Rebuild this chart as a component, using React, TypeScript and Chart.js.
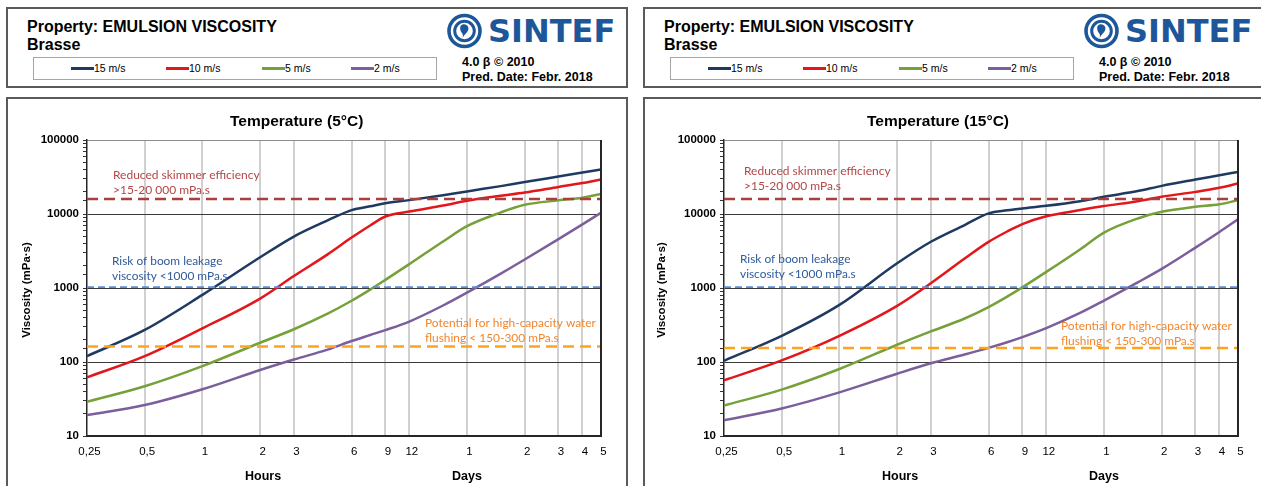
import React, { useEffect, useRef } from 'react';
import { Chart, registerables } from 'chart.js';

Chart.register(...registerables);

// ---------- data ----------
const hours = [0.25, 0.5, 1, 2, 3, 4.5, 6, 7.5, 9, 12, 18, 24, 36, 48, 72, 96, 120];

const xTickValues = [0.25, 0.5, 1, 2, 3, 6, 9, 12, 24, 48, 72, 96, 120];
const xTickLabels = ['0,25', '0,5', '1', '2', '3', '6', '9', '12', '1', '2', '3', '4', '5'];

const seriesNames = ['15 m/s', '10 m/s', '5 m/s', '2 m/s'];

// 5 °C
const wind15_5C = [120, 271, 807, 2600, 4960, 8200, 11300, 12700, 14000, 15400, 17900, 20200, 23800, 27000, 32100, 36300, 40000];
const wind10_5C = [62, 120, 285, 720, 1450, 2850, 4800, 7000, 9250, 10800, 13000, 15100, 17600, 19500, 23200, 26200, 29300];
const wind5_5C = [29, 47, 88, 182, 277, 450, 672, 951, 1288, 2100, 4250, 6850, 10500, 13300, 15300, 16600, 18700];
const wind2_5C = [19.2, 26.2, 42.8, 78, 108, 147, 192, 232, 270, 352, 580, 865, 1564, 2427, 4570, 7230, 10400];

// 15 °C
const wind15_15C = [104, 226, 592, 2160, 4220, 7100, 10200, 11200, 11900, 12900, 14900, 17100, 20400, 24000, 29200, 33400, 37100];
const wind10_15C = [56.5, 105, 226, 574, 1160, 2500, 4200, 5800, 7300, 9300, 11300, 12800, 14900, 17100, 19900, 22600, 25800];
const wind5_15C = [25.8, 42.4, 80.5, 171, 259, 387, 552, 765, 1020, 1650, 3320, 5610, 8700, 10700, 12500, 13500, 15400];
const wind2_15C = [16.3, 23.5, 38.9, 69.5, 96, 126, 155, 185, 217, 287, 460, 675, 1190, 1810, 3510, 5710, 8470];

const thresholds5C = [16000, 1030, 162];
const thresholds15C = [16000, 1030, 155];
const thresholdTexts = [
  ['Reduced skimmer efficiency', '>15-20\u00a0000 mPa.s'],
  ['Risk of boom leakage', 'viscosity <1000 mPa.s'],
  ['Potential for high-capacity water', 'flushing < 150-300 mPa.s'],
];

// ---------- styles ----------
const seriesColors = ['#1f3a60', '#e3161b', '#76a13a', '#7b5e9c'];
const thresholdLineColors = ['#ab3f3d', '#5b8fd6', '#ffa31f'];
const thresholdTextColors = ['#b24645', '#2f5b9b', '#f0862e'];
const thresholdDash = [[11, 6], [7, 4], [11, 6]];
const thresholdWidths = [2.5, 1.8, 2.5];
const thresholdTextWidths = [146.7, 110.5, 171];

const ARIAL = '"Liberation Sans", Arial, sans-serif';

type PanelCfg = {
  ox: number;
  title: string;
  series: number[][];
  thresholds: number[];
  textPos: number[][];
  lineGap: number;
  yTitleX: number;
};

const panels: PanelCfg[] = [
  {
    ox: 0,
    title: 'Temperature (5°C)',
    series: [wind15_5C, wind10_5C, wind5_5C, wind2_5C],
    thresholds: thresholds5C,
    textPos: [[113, 85], [112, 171], [425, 233]],
    lineGap: 15.5,
    yTitleX: 26.7,
  },
  {
    ox: 637,
    title: 'Temperature (15°C)',
    series: [wind15_15C, wind10_15C, wind5_15C, wind2_15C],
    thresholds: thresholds15C,
    textPos: [[107, 81], [103, 169], [424, 236]],
    lineGap: 15.3,
    yTitleX: 24.7,
  },
];

const isDecade = (v: number) => {
  const l = Math.log10(v);
  return Math.abs(l - Math.round(l)) < 1e-9;
};

function Panel({ cfg }: { cfg: PanelCfg }) {
  const ref = useRef<HTMLCanvasElement>(null);

  useEffect(() => {
    const canvas = ref.current!;
    const decor = {
      id: 'decor',
      afterDraw(chart: any) {
        const { ctx, chartArea: ca, scales } = chart;
        ctx.save();
        // right frame
        ctx.strokeStyle = '#262626';
        ctx.lineWidth = 2;
        ctx.beginPath();
        ctx.moveTo(ca.right, ca.top);
        ctx.lineTo(ca.right, ca.bottom + 1);
        ctx.stroke();

        // title
        ctx.fillStyle = '#000';
        ctx.textBaseline = 'middle';
        ctx.textAlign = 'left';
        ctx.font = `bold 15.5px ${ARIAL}`;
        ctx.fillText(cfg.title, 230, 31.7);

        // axis titles
        ctx.font = `bold 12.5px ${ARIAL}`;
        ctx.textAlign = 'center';
        const xs = scales.x;
        ctx.fillText('Hours', xs.getPixelForValue(2) + 3, 386.7);
        ctx.fillText('Days', xs.getPixelForValue(24), 386.7);

        ctx.save();
        ctx.translate(cfg.yTitleX, 200);
        ctx.rotate(-Math.PI / 2);
        ctx.font = `bold 11.5px ${ARIAL}`;
        ctx.fillText('Viscosity (mPa\u00b7s)', 0, 0);
        ctx.restore();

        // threshold annotations
        ctx.textAlign = 'left';
        thresholdTexts.forEach((lines, i) => {
          ctx.font = `20px Lato, "Open Sans", sans-serif`;
          const w = ctx.measureText(lines[0]).width;
          const size = (20 * thresholdTextWidths[i]) / w;
          ctx.font = `${size.toFixed(2)}px Lato, "Open Sans", sans-serif`;
          ctx.fillStyle = thresholdTextColors[i];
          const [tx, ty] = cfg.textPos[i];
          lines.forEach((t, j) => ctx.fillText(t, tx, ty + j * cfg.lineGap));
        });
        ctx.restore();
      },
    };

    const curveSets = cfg.series.map((vals, i) => ({
      label: seriesNames[i],
      data: hours.map((h, k) => ({ x: h, y: vals[k] })),
      borderColor: seriesColors[i],
      backgroundColor: seriesColors[i],
      borderWidth: 2.5,
      pointRadius: 0,
      cubicInterpolationMode: 'monotone' as const,
      fill: false,
      order: 1,
    }));
    const thresholdSets = cfg.thresholds.map((v, i) => ({
      label: thresholdTexts[i][0],
      data: [
        { x: xTickValues[0], y: v },
        { x: xTickValues[xTickValues.length - 1], y: v },
      ],
      borderColor: thresholdLineColors[i],
      borderWidth: thresholdWidths[i],
      borderDash: thresholdDash[i],
      pointRadius: 0,
      fill: false,
      order: 0,
    }));

    const chart = new Chart(canvas, {
      type: 'line',
      data: { datasets: [...curveSets, ...thresholdSets] as any },
      options: {
        animation: false,
        responsive: false,
        maintainAspectRatio: false,
        events: [],
        layout: { padding: { left: 0, top: 50, right: 35, bottom: 0 } },
        plugins: {
          legend: { display: false },
          title: { display: false },
          tooltip: { enabled: false },
        },
        scales: {
          x: {
            type: 'logarithmic',
            min: xTickValues[0],
            max: xTickValues[xTickValues.length - 1],
            afterBuildTicks: (s: any) => {
              s.ticks = xTickValues.map((v) => ({ value: v }));
            },
            afterFit: (s: any) => {
              s.height = 50;
            },
            ticks: {
              autoSkip: false,
              maxRotation: 0,
              minRotation: 0,
              padding: 9,
              labelOffset: 2.5,
              color: '#000',
              font: { family: 'Liberation Sans', size: 11.5 },
              callback: (_v: any, i: number) => xTickLabels[i],
            },
            grid: {
              drawTicks: false,
              lineWidth: 2,
              color: (c: any) =>
                c.index === 0 || c.index === xTickValues.length - 1 ? 'rgba(0,0,0,0)' : '#d0d0d0',
            },
            border: { color: '#262626', width: 2 },
          } as any,
          y: {
            type: 'logarithmic',
            min: 10,
            max: 100000,
            afterFit: (s: any) => {
              s.width = 87;
            },
            ticks: {
              autoSkip: false,
              padding: 4,
              color: '#000',
              font: { family: 'Liberation Sans', size: 11.5, weight: 'bold' },
              callback: (v: any) => (isDecade(Number(v)) ? String(Number(v)) : ''),
            },
            grid: {
              lineWidth: 1,
              tickLength: 4,
              tickColor: '#333',
              color: (c: any) => {
                const v = c.tick ? c.tick.value : 0;
                if (!isDecade(v)) return 'rgba(0,0,0,0)';
                if (v >= 100000) return '#8c8c8c';
                return '#3a3a3a';
              },
            },
            border: { color: '#262626', width: 1.5 },
          } as any,
        },
      },
      plugins: [decor],
    });
    return () => chart.destroy();
  }, []);

  const legendLineX = [71, 166, 262, 351];
  const legendTextX = [94, 189, 285, 374];
  const boxBorder = '2px solid #5a5a5a';

  return (
    <div style={{ position: 'absolute', left: cfg.ox, top: 0, width: 636, height: 486 }}>
      {/* header box */}
      <div
        style={{
          position: 'absolute',
          left: 6,
          top: 7,
          width: 618,
          height: 77,
          border: boxBorder,
          background: '#fff',
        }}
      />
      <div style={{ position: 'absolute', left: 27, top: 17, font: `bold 16px ${ARIAL}`, lineHeight: '20px', whiteSpace: 'nowrap', color: '#000' }}>
        Property: EMULSION VISCOSITY
      </div>
      <div style={{ position: 'absolute', left: 27, top: 35, font: `bold 16px ${ARIAL}`, lineHeight: '20px', whiteSpace: 'nowrap', color: '#000' }}>
        Brasse
      </div>
      <div
        style={{
          position: 'absolute',
          left: 33,
          top: 57,
          width: 402,
          height: 21,
          border: '1px solid #a6a6a6',
        }}
      />
      {seriesNames.map((n, i) => (
        <React.Fragment key={n}>
          <div
            style={{
              position: 'absolute',
              left: legendLineX[i],
              top: 67,
              width: 23,
              height: 3,
              background: seriesColors[i],
            }}
          />
          <div
            style={{
              position: 'absolute',
              left: legendTextX[i],
              top: 61,
              font: `10.5px ${ARIAL}`,
              lineHeight: '14px',
              whiteSpace: 'nowrap',
              color: '#000',
            }}
          >
            {n}
          </div>
        </React.Fragment>
      ))}
      {/* logo */}
      <svg
        style={{ position: 'absolute', left: 447, top: 13 }}
        width={35}
        height={36}
        viewBox="0 0 35 36"
      >
        <circle cx={17.5} cy={18} r={15.5} fill="none" stroke="#1d5799" strokeWidth={3.6} />
        <circle cx={17.5} cy={18} r={9.8} fill="none" stroke="#1d5799" strokeWidth={3} />
        <path d="M15.5 11.5 C20.5 10.5 23 15 20.5 18.5 C19 20.5 17 22 15.5 25 C17 21 14.5 20 13.5 17.5 C12.5 14.5 13.5 12 15.5 11.5 Z" fill="#1d5799" />
      </svg>
      <div
        style={{
          position: 'absolute',
          left: 488,
          top: 12,
          font: `bold 32px "DejaVu Sans", ${ARIAL}`,
          lineHeight: '38px',
          color: '#1d5799',
          whiteSpace: 'nowrap',
        }}
      >
        SINTEF
      </div>
      <div style={{ position: 'absolute', left: 462, top: 54, font: `bold 12.5px ${ARIAL}`, lineHeight: '16px', whiteSpace: 'nowrap', color: '#000' }}>
        4.0 β © 2010
      </div>
      <div style={{ position: 'absolute', left: 462, top: 69, font: `bold 12.5px ${ARIAL}`, lineHeight: '16px', whiteSpace: 'nowrap', color: '#000' }}>
        Pred. Date: Febr. 2018
      </div>
      {/* chart box */}
      <div
        style={{
          position: 'absolute',
          left: 6,
          top: 97,
          width: 618,
          height: 420,
          border: boxBorder,
        }}
      />
      <canvas
        ref={ref}
        width={636}
        height={396}
        style={{ position: 'absolute', left: 0, top: 90, width: 636, height: 396 }}
      />
    </div>
  );
}

export default function App() {
  return (
    <div
      style={{
        position: 'absolute',
        left: 0,
        top: 0,
        width: 1261,
        height: 486,
        overflow: 'hidden',
        background: '#fff',
      }}
    >
      {panels.map((p) => (
        <Panel key={p.title} cfg={p} />
      ))}
    </div>
  );
}
